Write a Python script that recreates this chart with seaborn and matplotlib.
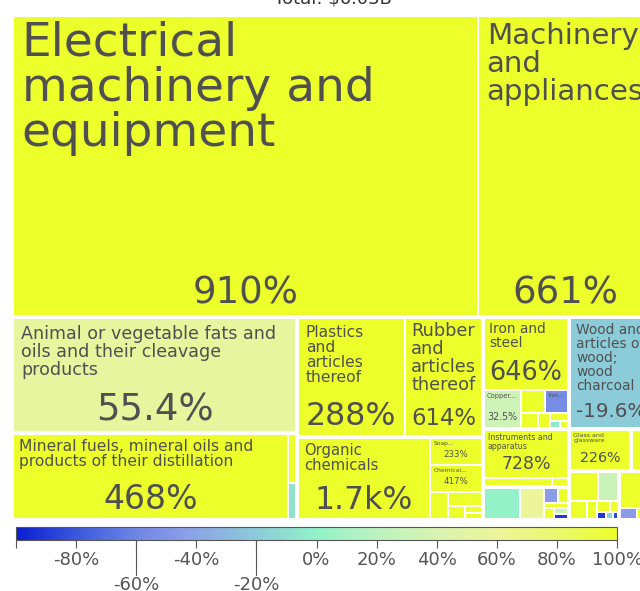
import seaborn as sns
import matplotlib.pyplot as plt
from matplotlib.patches import Rectangle
from matplotlib.colors import LinearSegmentedColormap, Normalize
from matplotlib.cm import ScalarMappable
from matplotlib.font_manager import FontProperties
from functools import lru_cache

sns.set_theme(style="white")
plt.rcParams['font.family'] = ['DejaVu Sans']

# Export value (US$ M) and growth (%) per section, one list per column
title = "Total: $6.03B"

machines_names = ["Electrical machinery and equipment", "Machinery and appliances"]
machines_values = [2617, 989]
machines_growth = [910, 661]

animal_names = ["Animal or vegetable fats and oils and their cleavage products"]
animal_values = [615]
animal_growth = [55.4]

mineral_names = ["Mineral fuels, mineral oils and products of their distillation", "", ""]
mineral_values = [448, 7.4, 5.5]
mineral_growth = [468, 150, -8]

plastics_names = ["Plastics and articles thereof", "Rubber and articles thereof"]
plastics_values = [241.0, 174.1]
plastics_growth = [288, 614]

chemicals_names = ["Organic chemicals", "Soap...", "Chemical...", "", "", "", "", ""]
chemicals_values = [205.3, 27.3, 27.3, 9.6, 9.0, 4.1, 2.5, 2.0]
chemicals_growth = [1700, 233, 417, 150, 300, 200, 120, 180]

metals_names = ["Iron and steel", "Copper...", "", "Iron...", "", "", "", "", ""]
metals_values = [116.8, 27.5, 10.8, 10.4, 5.0, 3.5, 2.5, 1.5, 1.2]
metals_growth = [646, 32.5, 250, -55, 200, 150, 120, -5, 300]

wood_names = ["Wood and articles of wood; wood charcoal"]
wood_values = [177.1]
wood_growth = [-19.6]

instruments_names = ["Instruments and apparatus", "", ""]
instruments_values = [78.5, 11.5, 2.8]
instruments_growth = [728, 200, 150]

textiles_names = ["Man-made...", "", "", "", "", "", "", ""]
textiles_values = [22.7, 14.7, 4.5, 3.0, 2.6, 2.3, 1.5, 1.5]
textiles_growth = [1.5, 60, -45, 200, 150, 180, 30, -90]

glass_names = ["Glass and glassware"]
glass_values = [48.4]
glass_growth = [226]

vehicles_names = [""]
vehicles_values = [18.0]
vehicles_growth = [140]

misc_names = [""] * 9
misc_values = [16.3, 11.6, 6.2, 3.9, 2.7, 1.7, 1.3, 1.0, 0.9]
misc_growth = [200, 30, 150, 250, 180, 300, -90, -15, -85]

footwear_names = ["", "", ""]
footwear_values = [24.0, 4.0, 3.9]
footwear_growth = [160, -45, 200]

sections = [
    (machines_names, machines_values, machines_growth),
    (animal_names, animal_values, animal_growth),
    (mineral_names, mineral_values, mineral_growth),
    (plastics_names, plastics_values, plastics_growth),
    (chemicals_names, chemicals_values, chemicals_growth),
    (metals_names, metals_values, metals_growth),
    (wood_names, wood_values, wood_growth),
    (instruments_names, instruments_values, instruments_growth),
    (textiles_names, textiles_values, textiles_growth),
    (glass_names, glass_values, glass_growth),
    (vehicles_names, vehicles_values, vehicles_growth),
    (misc_names, misc_values, misc_growth),
    (footwear_names, footwear_values, footwear_growth),
]

# growth colour scale
growth_stops = [-100, -80, -60, -45, -20, 0, 20, 40, 60, 80, 100]
stop_colors = ['#0b1ed2', '#3a58dc', '#6f86e4', '#8a9ce8', '#8ccbd8', '#92f2c8',
               '#bcf2c0', '#d8f4b0', '#ecf59a', '#eaf870', '#ecff2a']
cmap = LinearSegmentedColormap.from_list(
    'growth', [((g + 100) / 200, c) for g, c in zip(growth_stops, stop_colors)])
norm = Normalize(-100, 100)

TXT = '#505050'
DPI = 100


def squarify(values, x, y, w, h, ratio, turn):
    # squarified tiling (d3 style); rows go along the top while the box is not too wide
    rects = []
    total = float(sum(values))
    i0, n = 0, len(values)
    while i0 < n:
        s = values[i0]
        i1 = i0 + 1
        vmin = vmax = s
        alpha = max(h / w, w / h) / (total * ratio)
        beta = s * s * alpha
        best = max(vmax / beta, beta / vmin)
        while i1 < n:
            v = values[i1]
            s2 = s + v
            mn, mx = min(vmin, v), max(vmax, v)
            beta = s2 * s2 * alpha
            r = max(mx / beta, beta / mn)
            if r > best:
                break
            s, vmin, vmax, best = s2, mn, mx, r
            i1 += 1
        row = values[i0:i1]
        if w < turn * h:
            rh = h * s / total
            cx = x
            for v in row:
                rw = w * v / s
                rects.append((cx, y, rw, rh))
                cx += rw
            y += rh
            h -= rh
        else:
            cw = w * s / total
            cy = y
            for v in row:
                ch = h * v / s
                rects.append((x, cy, cw, ch))
                cy += ch
            x += cw
            w -= cw
        total -= s
        i0 = i1
    return rects


def fmt(g):
    if abs(g) >= 1000:
        return f"{g / 1000:.1f}k%"
    if abs(g) >= 100:
        return f"{g:.0f}%"
    return f"{g:.1f}%"


fig = plt.figure(figsize=(6.4, 5.91), dpi=DPI)
ax = fig.add_axes([0, 0, 1, 1])
ax.set_xlim(0, 640)
ax.set_ylim(591, 0)
ax.axis('off')
renderer = fig.canvas.get_renderer()


@lru_cache(maxsize=None)
def w100(s):
    prop = FontProperties(family='DejaVu Sans', size=72)  # 100 px
    return renderer.get_text_width_height_descent(s, prop, ismath=False)[0]


def tw(s, px):
    return w100(s) * px / 100


def wrap(words, px, maxw):
    lines = [words[0]]
    for wd in words[1:]:
        t = lines[-1] + " " + wd
        if tw(t, px) <= maxw:
            lines[-1] = t
        else:
            lines.append(wd)
    return lines


def fit_name(name, maxw, maxh, top=47):
    words = name.split()
    px = top
    while px >= 5:
        lines = wrap(words, px, maxw)
        if max(tw(l, px) for l in lines) <= maxw and len(lines) * px * 1.02 <= maxh:
            return px, lines
        px -= 0.25
    return None, None


def draw_label(x, y, w, h, name, g):
    if not name:
        return
    pad = min(8, max(2.5, 0.07 * min(w, h)))
    pad_b = min(12, max(6, 0.04 * h + 6))
    vs = fmt(g)
    vpx = min(37, (w - 2 * pad) / (w100(vs) / 100), 0.42 * h - 2)
    show_v = h >= 24 and vpx >= 6
    avail = h - pad - (pad_b + 1.1 * vpx if show_v else pad)
    px, lines = fit_name(name, w - 2 * pad, avail)
    if px is None:
        return
    ax.text(x + pad, y + pad - 0.08 * px, "\n".join(lines), fontsize=px * 72 / DPI,
            ha='left', va='top', linespacing=1.0, color=TXT)
    if show_v:
        ax.text(x + w / 2, y + h - pad_b, vs, fontsize=vpx * 72 / DPI,
                ha='center', va='baseline', color=TXT)


# treemap box (runs past the right edge of the picture)
X0, Y0, W, H = 12, 15, 642, 505
SP, IP = 0.6, 1.0

sec_values = [sum(v) for _, v, _ in sections]
sec_rects = squarify(sec_values, X0, Y0, W, H, ratio=1.7, turn=1.52)

for (names, values, growth), (sx, sy, sw, sh) in zip(sections, sec_rects):
    sx, sy, sw, sh = sx + SP, sy + SP, sw - 2 * SP, sh - 2 * SP
    item_rects = squarify(values, sx, sy, sw, sh, ratio=1.0, turn=1.52)
    for name, g, (x, y, w, h) in zip(names, growth, item_rects):
        x, y, w, h = x + IP, y + IP, w - 2 * IP, h - 2 * IP
        ax.add_patch(Rectangle((x, y), w, h, facecolor=cmap(norm(g)), edgecolor='none'))
        draw_label(x, y, w, h, name, g)

# title, mostly above the picture
fig.text(333 / 640, 1 - 3 / 591, title, ha='center', va='baseline',
         fontsize=13, color='#333333')

# colour scale
cax = fig.add_axes([16 / 640, 1 - 540 / 591, 601 / 640, 13 / 591])
sm = ScalarMappable(norm=norm, cmap=cmap)
cb = fig.colorbar(sm, cax=cax, orientation='horizontal')
ticks = list(range(-100, 101, 20))
cb.set_ticks(ticks)
cb.set_ticklabels(['' if t in (-100, -60, -20) else f"{t}%" for t in ticks])
cax.tick_params(axis='x', bottom=True, length=6, width=0.8, color='#555555',
                labelsize=13, labelcolor='#555555', pad=2)
cb.outline.set_edgecolor('#555555')
cb.outline.set_linewidth(0.8)
for t in (-60, -20):
    cax.plot([t, t], [0, -2.7], transform=cax.get_xaxis_transform(),
             color='#555555', lw=0.8, clip_on=False)
    cax.text(t, -3.5, f"{t}%", transform=cax.get_xaxis_transform(),
             ha='center', va='center', fontsize=13, color='#555555')

plt.savefig("out.png", dpi=DPI)
